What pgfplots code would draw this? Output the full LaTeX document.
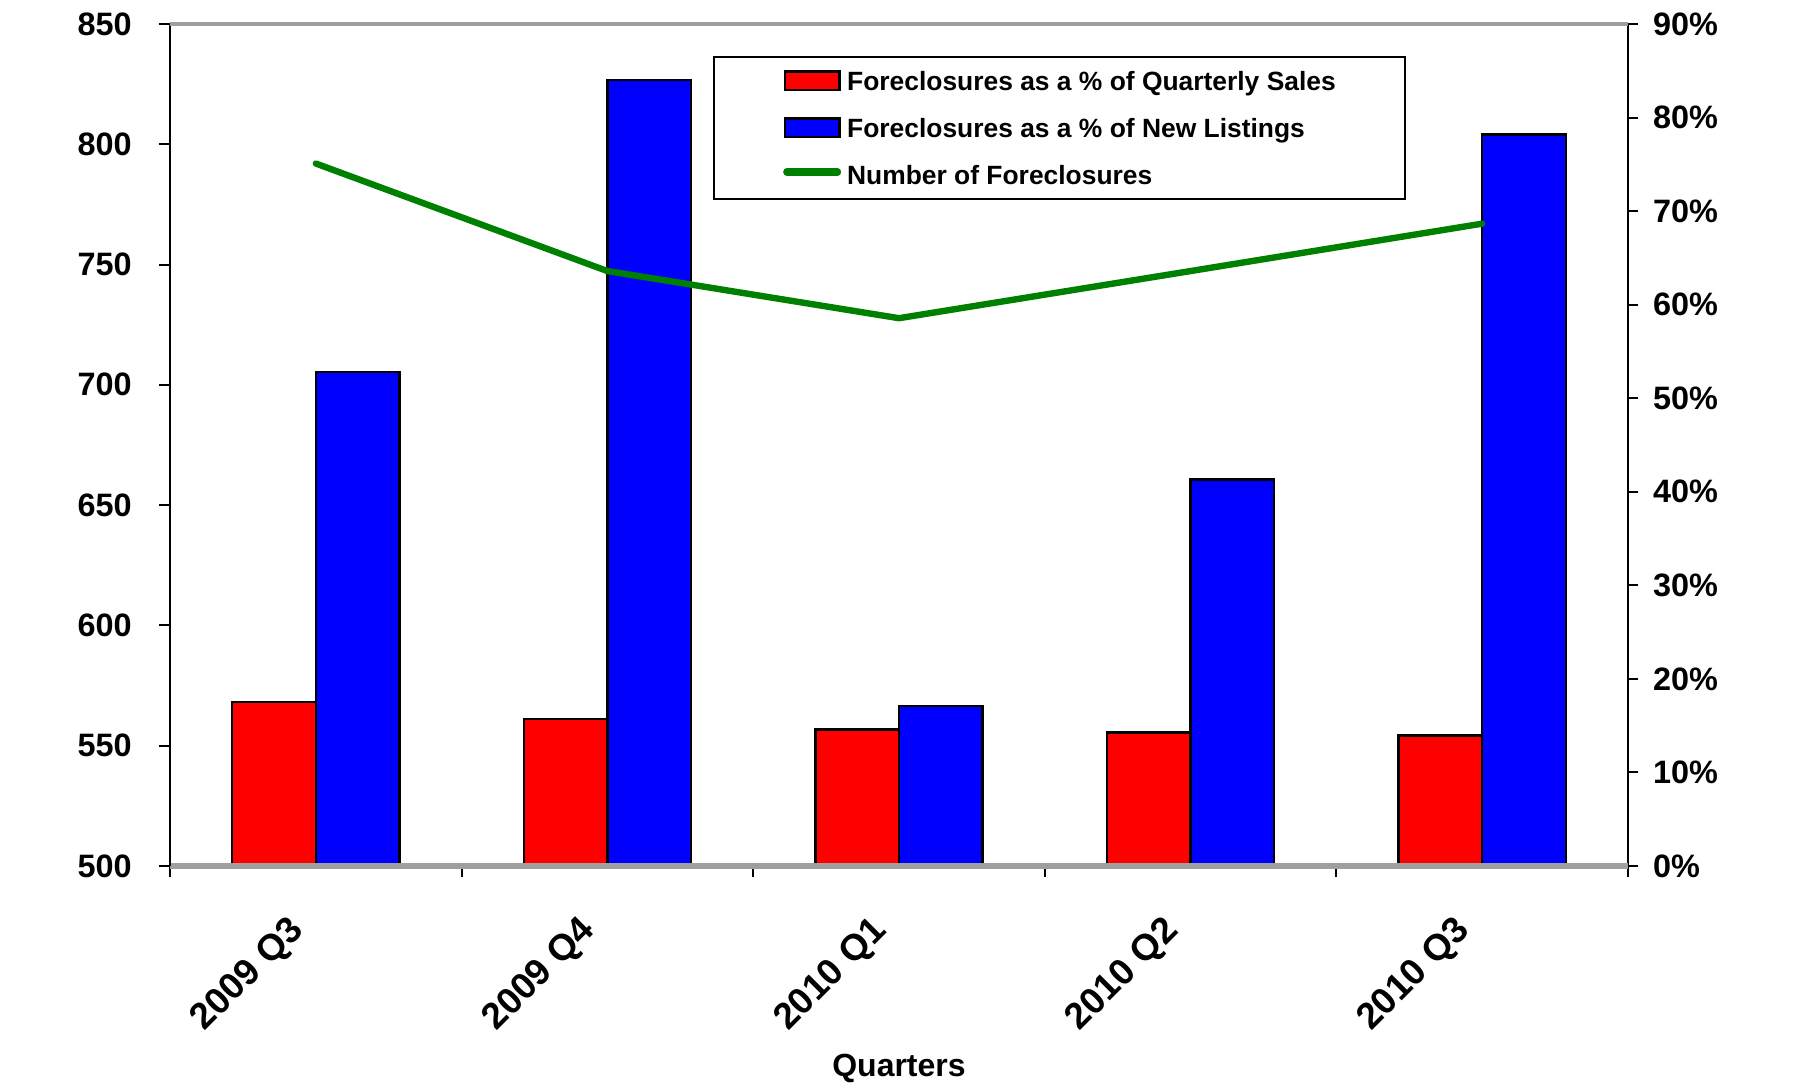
\documentclass[border=0pt]{standalone}
\usepackage{fontspec}
\setmainfont{Liberation Sans}
\usepackage{pgfplots}
\pgfplotsset{compat=1.18}
\definecolor{xlred}{RGB}{255,0,0}
\definecolor{xlblue}{RGB}{0,0,255}
\definecolor{xlgreen}{RGB}{0,128,0}
\pgfplotsset{
  common/.style={at={(0,0)}, anchor=south west, scale only axis,
    width=364.5pt, height=210.5pt, xmin=-0.5, xmax=4.5,
    /pgf/number format/assume math mode=true,
    tick label style={font=\fontsize{8.1}{9}\selectfont\bfseries},
    tick align=outside},
  barlegend/.style={legend image code/.code={%
    \draw[##1] (0pt,-2.3pt) rectangle (13.7pt,2.3pt);}},
  linelegend/.style={legend image code/.code={%
    \path[draw=none,fill=none] (0pt,-2.3pt) rectangle (13.7pt,2.3pt);
    \draw[##1] (0.5pt,0.7pt) -- (13.2pt,0.7pt);}},
}
\begin{document}
\begin{tikzpicture}
\begin{axis}[common,
  ymin=0, ymax=90, ytick={0,10,...,90},
  yticklabel={\pgfmathprintnumber{\tick}\%},
  axis y line*=right, axis x line*=bottom,
  y axis line style={-, black, line width=0.5pt},
  x axis line style={-, draw=none},
  xtick={0,...,4},
  xticklabels={2009 Q3, 2009 Q4, 2010 Q1, 2010 Q2, 2010 Q3},
  major x tick style={draw=none},
  ytick style={black, line width=0.5pt},
  major tick length=2.6pt,
  yticklabel style={inner sep=0pt, xshift=3.5pt},
  xticklabel style={font=\fontsize{9.2}{10}\selectfont\bfseries, xshift=-7.3pt, yshift=-9pt, rotate=45, anchor=north east, inner sep=0pt},
  ybar=0pt, bar width=20.9pt,
  legend style={at={(rel axis cs:0.3724,0.962)}, anchor=north west,
    draw=black, line width=0.5pt, fill=white,
    inner xsep=17.3pt, inner ysep=2pt, row sep=3.85pt, column sep=1.5pt,
    font=\fontsize{6.6}{7}\selectfont\bfseries,
    nodes={inner sep=0pt, text height=6.3pt, text depth=1.6pt},
    cells={anchor=base west}},
  legend cell align=left,
]
\addplot[fill=xlred, draw=black, line width=0.6pt, barlegend]
  coordinates {(0,17.5) (1,15.7) (2,14.6) (3,14.25) (4,13.95)};
\addlegendentry{Foreclosures as a \% of Quarterly Sales}
\addplot[fill=xlblue, draw=black, line width=0.6pt, barlegend]
  coordinates {(0,52.8) (1,84.0) (2,17.1) (3,41.3) (4,78.2)};
\addlegendentry{Foreclosures as a \% of New Listings}
\addlegendimage{xlgreen, line width=1.8pt, line cap=round, linelegend}
\addlegendentry{Number of Foreclosures}
\end{axis}
\begin{axis}[common,
  ymin=500, ymax=850, ytick={500,550,...,850},
  axis y line*=left, axis x line*=bottom,
  xtick={-0.5,0.5,...,4.5}, xticklabels={},
  x axis line style={-, draw=gray!75, line width=1.3pt},
  y axis line style={-, black, line width=0.5pt},
  xtick style={black, line width=0.5pt},
  ytick style={black, line width=0.5pt},
  major tick length=2.8pt,
  yticklabel style={inner sep=0pt, xshift=-6.6pt},
  xlabel={Quarters},
  every axis x label/.style={at={(axis description cs:0.5,0)}, anchor=base, yshift=-52.6pt, font=\fontsize{8}{9}\selectfont\bfseries},
]
\addplot[xlgreen, line width=1.6pt, line join=round, line cap=round]
  coordinates {(0,792) (1,747.3) (2,727.7) (3,747.3) (4,767)};
\end{axis}
\draw[gray!75, line width=0.8pt] (0pt,210.5pt) -- (364.5pt,210.5pt);
\pgfresetboundingbox
\useasboundingbox (-42.5pt,-55.5pt) rectangle (407pt,216.5pt);
\end{tikzpicture}
\end{document}
